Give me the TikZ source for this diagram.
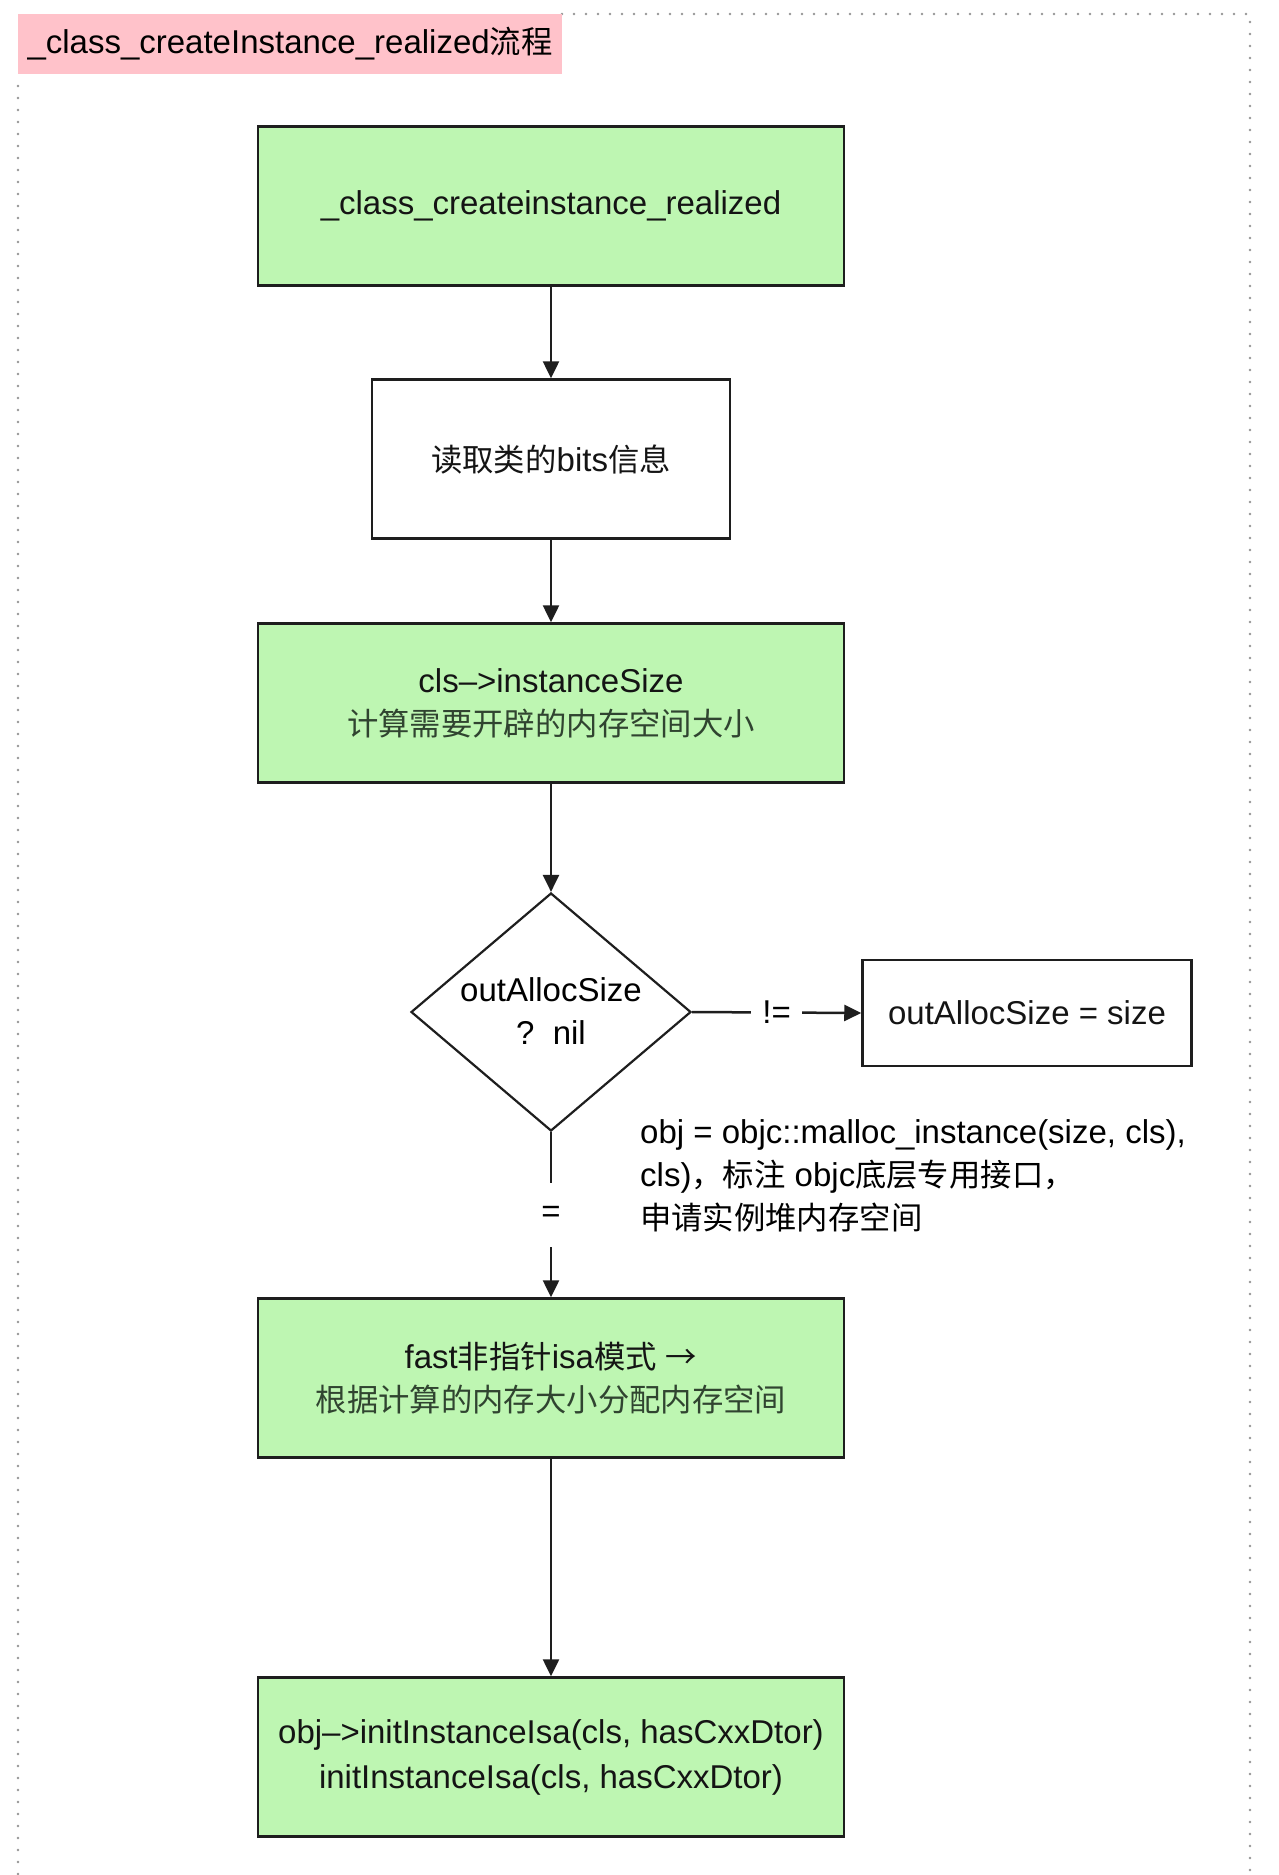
\documentclass[tikz,border=0pt]{standalone}
\usepackage{fontspec}
\setmainfont{Liberation Sans}
\newfontfamily\cjk[Scale=0.95]{Noto Sans CJK SC}
\usetikzlibrary{arrows.meta,shapes.geometric}
\definecolor{boxgreen}{RGB}{190,246,178}
\definecolor{titlepink}{RGB}{255,194,202}
\definecolor{edge}{RGB}{30,30,30}
\definecolor{subtext}{RGB}{48,68,48}
\definecolor{dotgray}{RGB}{150,150,150}
\begin{document}
\begin{tikzpicture}[x=1pt,y=-1pt,
  font=\fontsize{33pt}{43pt}\selectfont,
  box/.style={draw=edge, line width=2.5pt, minimum width=586pt, minimum height=159pt, inner sep=0pt, align=center, text=black!92},
  gbox/.style={box, fill=boxgreen},
  wbox/.style={box, fill=white, minimum width=358pt},
  diam/.style={diamond, draw=edge, line width=2.2pt, fill=white, minimum width=280pt, minimum height=238pt, inner sep=0pt, aspect=1.18},
  arr/.style={draw=edge, line width=2.5pt, -{Triangle[length=17pt,width=16pt]}},
  labh/.style={fill=white, inner xsep=11pt, inner ysep=4pt},
  labv/.style={fill=white, inner xsep=4pt, minimum height=64pt},
  border/.style={draw=dotgray, line width=2.6pt, line cap=round, dash pattern=on 0pt off 12pt}]
\fill[white] (0,0) rectangle (1279,1875);
\useasboundingbox (0,0) rectangle (1279,1875);
% dotted frame
\draw[border] (562,14) -- (1250,14) -- (1250,1875);
\draw[border] (18,86) -- (18,1875);
% title
\node[fill=titlepink, minimum width=544pt, minimum height=60pt, inner sep=0pt] (title) at (290,44) {\_class\_createInstance\_realized{\cjk 流程}};
% boxes
\node[gbox] (b1) at (551,206) {\_class\_createinstance\_realized};
\node[wbox] (b2) at (551,459) {{\cjk 读取类的}bits{\cjk 信息}};
\node[gbox] (b3) at (551,703) {cls–>instanceSize\\{\color{subtext}\cjk 计算需要开辟的内存空间大小}};
\node[diam] (d) at (551,1012) {};
\node[align=center, inner sep=0pt] (dtext) at (551,1011) {outAllocSize\\?\ \ nil};
\node[box, fill=white, minimum width=329pt, minimum height=106pt] (b4) at (1027,1013) {outAllocSize = size};
\node[anchor=north west, align=left, inner sep=0pt] (note) at (640,1119) {obj = objc::malloc\_instance(size, cls),\\cls){\cjk ，标注} objc{\cjk 底层专用接口，}\\{\cjk 申请实例堆内存空间}};
\node[gbox] (b5) at (551,1378) {fast{\cjk 非指针}isa{\cjk 模式} {\cjk →}\\{\color{subtext}\cjk 根据计算的内存大小分配内存空间}};
\node[gbox, font=\fontsize{33pt}{45pt}\selectfont] (b6) at (551,1757) {obj–>initInstanceIsa(cls, hasCxxDtor)\\initInstanceIsa(cls, hasCxxDtor)};
% connectors
\draw[arr] (b1) -- (b2);
\draw[arr] (b2) -- (b3);
\draw[arr] (b3) -- (d);
\draw[arr] (d.east) -- node[labh]{!=} (b4.west);
\draw[arr] (d.south) -- node[labv]{=} (b5.north);
\draw[arr] (b5) -- (b6);
\end{tikzpicture}
\end{document}
